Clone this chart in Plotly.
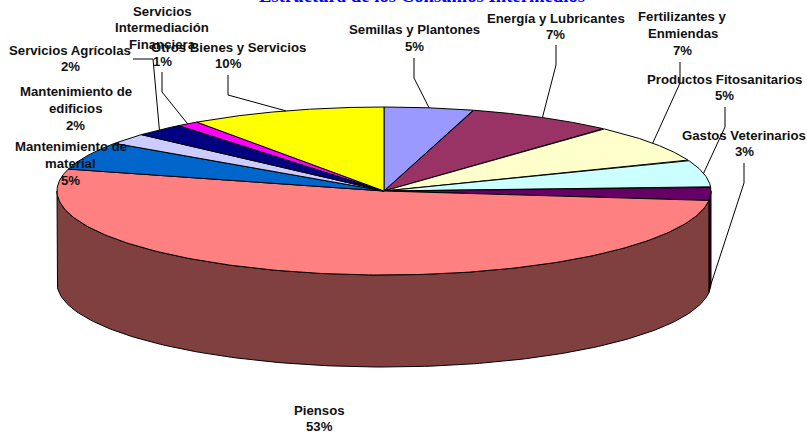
import numpy as np
import plotly.graph_objects as go

categories = ["Semillas y Plantones", "Energía y Lubricantes", "Fertilizantes y Enmiendas",
              "Productos Fitosanitarios", "Gastos Veterinarios", "Piensos",
              "Mantenimiento de material", "Mantenimiento de edificios", "Servicios Agrícolas",
              "Servicios Intermediación Financiera", "Otros Bienes y Servicios"]
values = [4.4, 7.3, 7.3, 5.2, 2.6, 52.4, 5.4, 2.1, 2.5, 1.1, 9.7]
percent_labels = ["5%", "7%", "7%", "5%", "3%", "53%", "5%", "2%", "2%", "1%", "10%"]
title_text = "Estructura de los Consumos Intermedios"

colors = ["#9999FF", "#993366", "#FFFFCC", "#CCFFFF", "#660066", "#FF8080",
          "#0066CC", "#CCCCFF", "#000080", "#FF00FF", "#FFFF00"]
wall_colors = ["#4C4C80", "#4C1A33", "#808066", "#668080", "#330033", "#804040",
               "#003366", "#666680", "#000040", "#800080", "#808000"]

W, H = 807, 432
CX, CY, RX, RY, DEPTH = 384.0, 191.0, 327.0, 84.0, 92.0
LINE_STEP = 16.8

# Label layout: wrapped lines, centre x, first line y, leader elbow points (None = no leader)
label_layout = [
    (["Semillas y Plantones"], 414, 29.5, [(414, 58), (414, 78)]),
    (["Energía y Lubricantes"], 555.5, 18, [(556, 45), (556, 65)]),
    (["Fertilizantes y", "Enmiendas"], 682.5, 16.5, [(680, 62), (680, 83)]),
    (["Productos Fitosanitarios"], 724.5, 79, [(725, 107), (725, 127)]),
    (["Gastos Veterinarios"], 744, 135, [(744, 163), (744, 183)]),
    (["Piensos"], 319, 410, None),
    (["Mantenimiento de", "material"], 70.5, 146.5, None),
    (["Mantenimiento de", "edificios"], 75.5, 91.5, None),
    (["Servicios Agrícolas"], 70, 50, [(133, 59), (153, 59)]),
    (["Servicios", "Intermediación", "Financiera"], 162, 11, [(162, 72), (162, 92)]),
    (["Otros Bienes y Servicios"], 228.5, 47, [(228, 75), (228, 95)]),
]

frac = np.cumsum([0] + values) / sum(values) * 2 * np.pi


def px(t):
    return CX + RX * np.sin(t)


def py(t, drop=0.0):
    return CY - RY * np.cos(t) + drop


fig = go.Figure()


def poly(xs, ys, fill):
    fig.add_trace(go.Scatter(x=xs, y=ys, mode="lines", fill="toself", fillcolor=fill,
                             line=dict(color="black", width=1), hoverinfo="skip",
                             showlegend=False))


# Side walls (only the front half of the rim is visible)
for i in range(len(values)):
    a, b = max(frac[i], np.pi / 2), min(frac[i + 1], 3 * np.pi / 2)
    if b <= a:
        continue
    t = np.linspace(a, b, 160)
    xs = np.r_[px(t), px(t[::-1]), px(t[0])]
    ys = np.r_[py(t), py(t[::-1], DEPTH), py(t[0])]
    poly(xs, ys, wall_colors[i])

# Top faces
for i in range(len(values)):
    t = np.linspace(frac[i], frac[i + 1], 200)
    poly(np.r_[CX, px(t), CX], np.r_[CY, py(t), CY], colors[i])

# Leader lines, ending at the mid-angle of each slice on the rim
for i, (_, _, _, elbow) in enumerate(label_layout):
    if elbow is None:
        continue
    mid = (frac[i] + frac[i + 1]) / 2
    if categories[i] == "Gastos Veterinarios":
        end = (px(frac[i + 1]), py(frac[i + 1], DEPTH - 2))
    else:
        end = (px(mid), py(mid))
    pts = list(elbow) + [end]
    fig.add_trace(go.Scatter(x=[p[0] for p in pts], y=[p[1] for p in pts], mode="lines",
                             line=dict(color="black", width=1), hoverinfo="skip",
                             showlegend=False))

annotations = []
for i, (lines, lx, ly, _) in enumerate(label_layout):
    for j, txt in enumerate(lines + [percent_labels[i]]):
        annotations.append(dict(x=lx, y=ly + j * LINE_STEP, xref="x", yref="y", showarrow=False,
                                text=txt, align="center", xanchor="center", yanchor="middle",
                                font=dict(family="Liberation Sans", size=13.2, color="#111111",
                                          weight="bold")))
annotations.append(dict(x=422 / W, y=1 + 4 / H, xref="paper", yref="paper", showarrow=False,
                        text=f"<b>{title_text}</b>", xanchor="center", yanchor="middle",
                        font=dict(family="Liberation Serif", size=18.7, color="#0000FF")))

fig.update_layout(
    width=W, height=H, margin=dict(l=0, r=0, t=0, b=0),
    paper_bgcolor="white", plot_bgcolor="white", showlegend=False,
    xaxis=dict(range=[0, W], visible=False, fixedrange=True),
    yaxis=dict(range=[H, 0], visible=False, fixedrange=True),
    annotations=annotations,
)
fig.write_html("out.html", config={"displayModeBar": False},
               post_script="document.body.style.margin='0';document.body.style.overflow='hidden';")
